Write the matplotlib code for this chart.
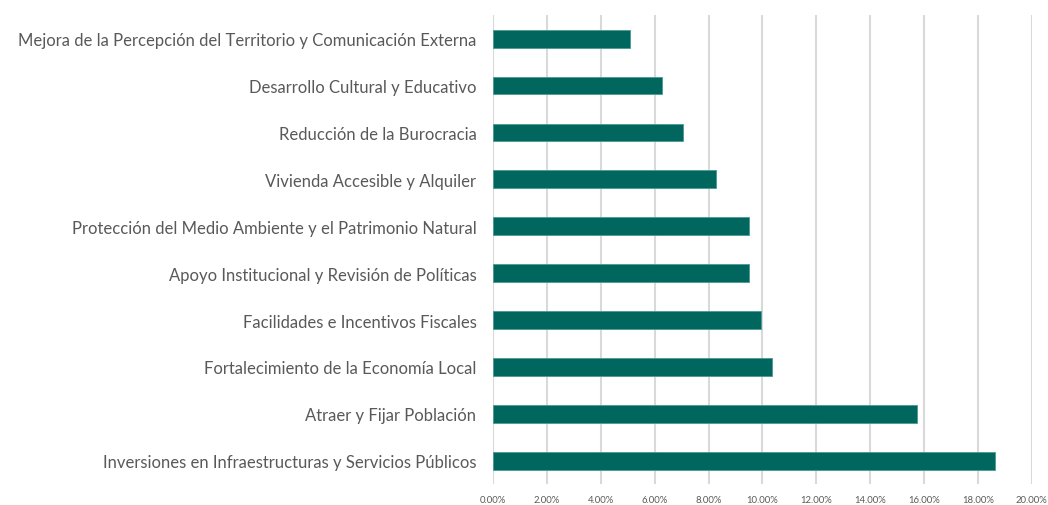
import matplotlib.pyplot as plt
from matplotlib.ticker import FuncFormatter

# Datos (de abajo hacia arriba)
categorias = [
    "Inversiones en Infraestructuras y Servicios Públicos",
    "Atraer y Fijar Población",
    "Fortalecimiento de la Economía Local",
    "Facilidades e Incentivos Fiscales",
    "Apoyo Institucional y Revisión de Políticas",
    "Protección del Medio Ambiente y el Patrimonio Natural",
    "Vivienda Accesible y Alquiler",
    "Reducción de la Burocracia",
    "Desarrollo Cultural y Educativo",
    "Mejora de la Percepción del Territorio y Comunicación Externa",
]
porcentajes = [18.65, 15.74, 10.37, 9.95, 9.52, 9.52, 8.28, 7.05, 6.26, 5.09]
ticks_x = [0, 2, 4, 6, 8, 10, 12, 14, 16, 18, 20]

plt.rcParams['font.family'] = ['Lato', 'DejaVu Sans']

fig = plt.figure(figsize=(10.48, 5.06), dpi=100)
ax = fig.add_axes([0.4705, 0.041, 0.514, 0.927])

ax.barh(range(len(categorias)), porcentajes, height=0.38, color='#00665E',
        edgecolor='#4a9a94', linewidth=0.6, zorder=3)

ax.set_xlim(0, 20)
ax.set_ylim(-0.5, len(categorias) - 0.5)
ax.set_xticks(ticks_x)
ax.xaxis.set_major_formatter(FuncFormatter(lambda v, p: f"{v:.2f}%"))
ax.set_yticks(range(len(categorias)))
ax.set_yticklabels(categorias)

ax.grid(axis='x', color='#d9d9d9', linewidth=1.5, zorder=0)
for s in ax.spines.values():
    s.set_visible(False)

ax.tick_params(axis='y', length=0, pad=12, labelsize=12, labelcolor='#595959')
ax.tick_params(axis='x', length=0, pad=8, labelsize=6.8, labelcolor='#595959')

fig.savefig("out.png", dpi=100)
